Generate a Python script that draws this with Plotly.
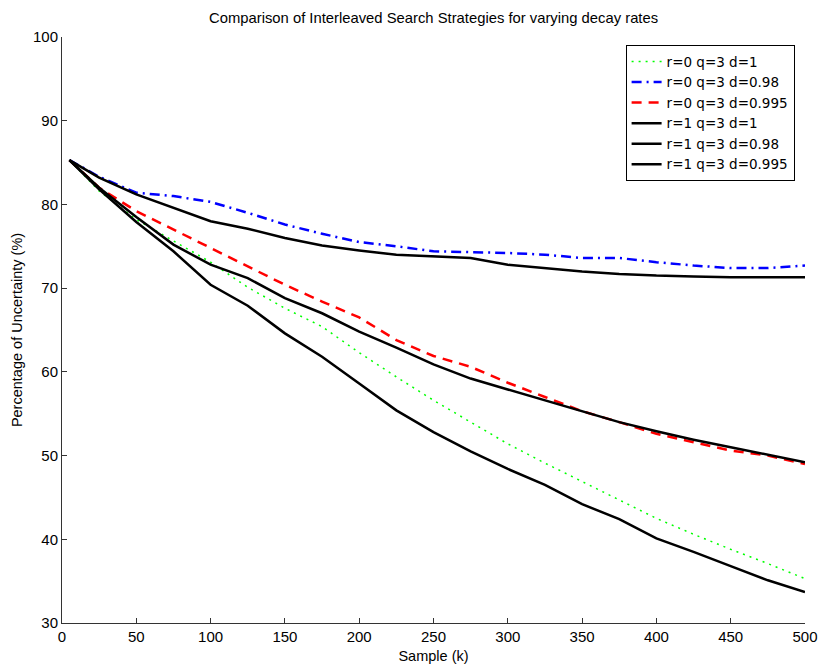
import plotly.graph_objects as go

samples = [5, 25, 50, 75, 100, 125, 150, 175, 200, 225, 250, 275, 300, 325, 350, 375, 400, 425, 450, 475, 500]

r0_d1 = [85.3, 81.6, 78.2, 75.6, 73.1, 70.1, 67.6, 65.4, 62.3, 59.4, 56.6, 54.0, 51.4, 49.1, 46.9, 44.7, 42.5, 40.6, 38.8, 37.1, 35.3]
r0_d098 = [85.3, 83.3, 81.4, 81.0, 80.3, 79.0, 77.6, 76.5, 75.5, 75.0, 74.4, 74.3, 74.2, 74.0, 73.6, 73.6, 73.1, 72.7, 72.4, 72.4, 72.7]
r0_d0995 = [85.3, 82.0, 79.2, 77.0, 74.8, 72.6, 70.4, 68.4, 66.5, 63.8, 61.9, 60.6, 58.7, 57.0, 55.3, 54.0, 52.6, 51.6, 50.6, 50.0, 49.0]
r1_d1 = [85.3, 81.8, 77.9, 74.4, 70.4, 67.9, 64.6, 61.8, 58.6, 55.4, 52.8, 50.5, 48.4, 46.5, 44.2, 42.4, 40.1, 38.5, 36.8, 35.1, 33.7]
r1_d098 = [85.3, 83.2, 81.2, 79.6, 78.0, 77.1, 76.0, 75.1, 74.5, 74.0, 73.8, 73.6, 72.8, 72.4, 72.0, 71.7, 71.5, 71.4, 71.3, 71.3, 71.3]
r1_d0995 = [85.3, 82.0, 78.5, 75.2, 72.8, 71.2, 68.8, 67.0, 64.8, 62.9, 60.9, 59.2, 57.9, 56.6, 55.3, 54.0, 52.9, 51.9, 51.0, 50.1, 49.2]

series = [
    ("r=0 q=3 d=1", r0_d1, "rgb(0,255,0)", "2px,5px", 1.5),
    ("r=0 q=3 d=0.98", r0_d098, "rgb(0,0,255)", "10px,5px,2px,5px", 2.5),
    ("r=0 q=3 d=0.995", r0_d0995, "rgb(255,0,0)", "10px,7px", 2.5),
    ("r=1 q=3 d=1", r1_d1, "black", "solid", 2.5),
    ("r=1 q=3 d=0.98", r1_d098, "black", "solid", 2.5),
    ("r=1 q=3 d=0.995", r1_d0995, "black", "solid", 2.5),
]

fig = go.Figure()
for name, vals, color, dash, w in series:
    fig.add_trace(go.Scatter(x=samples, y=vals, mode="lines", name=name,
                             line=dict(color=color, dash=dash, width=w)))

fig.update_layout(
    width=819, height=665,
    margin=dict(l=62, r=14, t=37, b=42, autoexpand=False),
    paper_bgcolor="white", plot_bgcolor="white",
    font=dict(family="Liberation Sans, Arial, sans-serif", size=15, color="black"),
    title=dict(text="Comparison of Interleaved Search Strategies for varying decay rates",
               x=0.5294, xanchor="center", y=0.973, yanchor="middle",
               font=dict(size=14.8)),
    legend=dict(x=0.986, xanchor="right", y=0.986, yanchor="top",
                bordercolor="black", borderwidth=1, bgcolor="white",
                font=dict(family="DejaVu Sans, sans-serif", size=13.5),
                tracegroupgap=0, itemwidth=30),
    showlegend=True,
)
fig.update_xaxes(range=[0, 500], tickvals=list(range(0, 501, 50)),
                 ticks="inside", ticklen=5, tickcolor="#333",
                 showline=True, linecolor="#333", linewidth=1,
                 showgrid=False, zeroline=False, automargin=False,
                 tickfont=dict(size=15),
                 title=dict(text="Sample (k)", font=dict(size=14.5), standoff=6))
fig.update_yaxes(range=[30, 100], tickvals=list(range(30, 101, 10)),
                 ticks="inside", ticklen=5, tickcolor="#333",
                 showline=True, linecolor="#333", linewidth=1,
                 showgrid=False, zeroline=False, automargin=False,
                 tickfont=dict(size=15),
                 title=dict(text="Percentage of Uncertainty (%)", font=dict(size=14.5), standoff=6))

fig.write_html("out.html")
